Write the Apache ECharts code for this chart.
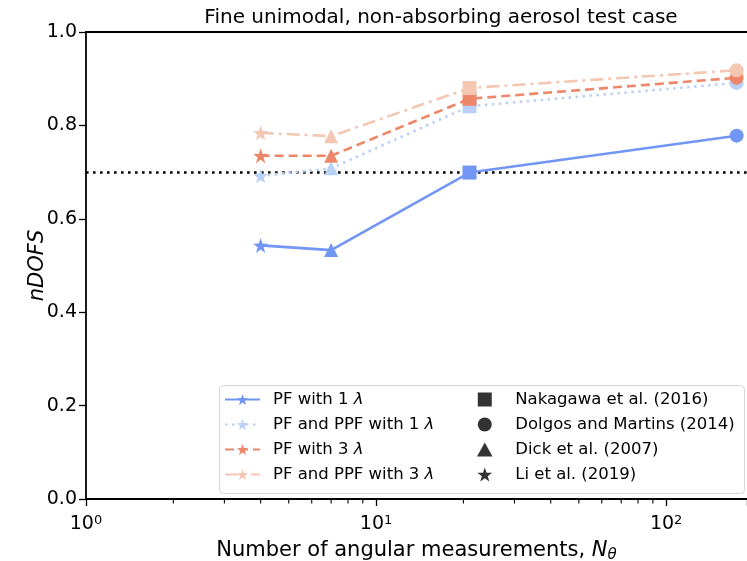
<!DOCTYPE html>
<html>
<head>
<meta charset="utf-8">
<script src="https://cdn.jsdelivr.net/npm/echarts@6/dist/echarts.min.js"></script>
<style>
  html, body { margin: 0; padding: 0; background: #fff; }
  #chart { width: 747px; height: 561px; }
</style>
</head>
<body>
<div id="chart"></div>
<script>
// Number of angular measurements for each retrieval configuration
const nTheta = [4, 7, 21, 175];
// Normalised degrees of freedom for signal
const pf1 = [0.543, 0.533, 0.699, 0.778];
const pfPpf1 = [0.692, 0.708, 0.841, 0.891];
const pf3 = [0.735, 0.735, 0.857, 0.902];
const pfPpf3 = [0.784, 0.777, 0.880, 0.918];
// Source study for each measurement geometry (marker shape)
const studyMarker = ['star', 'triangle', 'square', 'circle'];
const studies = ['Nakagawa et al. (2016)', 'Dolgos and Martins (2014)', 'Dick et al. (2007)', 'Li et al. (2019)'];
const studyShape = ['square', 'circle', 'triangle', 'star'];
const threshold = 0.7;
const minorTicks = [2, 3, 4, 5, 6, 7, 8, 9, 20, 30, 40, 50, 60, 70, 80, 90];
const seriesNames = ['PF with 1 λ', 'PF and PPF with 1 λ', 'PF with 3 λ', 'PF and PPF with 3 λ'];

const STAR = 'path://M0,-10L2.35,-3.24L9.51,-3.09L3.8,1.24L5.88,8.09L0,4L-5.88,8.09L-3.8,1.24L-9.51,-3.09L-2.35,-3.24Z';
const SQUARE = 'path://M0,0L10,0L10,10L0,10Z';
const TRIANGLE = 'path://M5,0L10,9L0,9Z';
const symbolFor = { star: STAR, triangle: 'triangle', square: 'rect', circle: 'circle' };
const legendIconFor = { star: STAR, triangle: TRIANGLE, square: SQUARE, circle: 'circle' };

const FONT = 'DejaVu Sans';
const colors = ['#7196f3', '#b9d0f8', '#ee8669', '#f3c7b1'];
const dashes = ['solid', [2.5, 4.5], [9, 5], [13, 5, 3, 5]];
const values = [pf1, pfPpf1, pf3, pfPpf3];

function makeData(vals) {
  return nTheta.map((x, i) => ({
    value: [x, vals[i]],
    symbol: symbolFor[studyMarker[i]],
    symbolSize: studyMarker[i] === 'star' ? 15 : 14
  }));
}

const lineSeries = seriesNames.map((name, k) => ({
  name: name,
  type: 'line',
  data: makeData(values[k]),
  symbol: STAR,
  symbolSize: 15,
  color: colors[k],
  lineStyle: { color: colors[k], width: 2.6, type: dashes[k] },
  itemStyle: { color: colors[k] },
  z: 3 + k
}));

// Dotted reference line at the threshold
lineSeries[0].markLine = {
  silent: true,
  symbol: 'none',
  label: { show: false },
  lineStyle: { color: '#000', width: 2.6, type: [2.6, 4.4] },
  data: [{ yAxis: threshold }],
  z: 2
};

const studySeries = studies.map((name, i) => ({
  name: name,
  type: 'scatter',
  data: [],
  symbol: legendIconFor[studyShape[i]],
  color: '#000',
  itemStyle: { color: '#000' }
}));

const minorTickSeries = {
  type: 'custom',
  silent: true,
  data: minorTicks.map(v => [v, 0]),
  renderItem: function (params, api) {
    const p = api.coord([api.value(0), api.value(1)]);
    return {
      type: 'line',
      shape: { x1: p[0], y1: p[1], x2: p[0], y2: p[1] + 4.5 },
      style: { stroke: '#000', lineWidth: 1.1 }
    };
  },
  z: 10
};

function logLabel(v) {
  const e = Math.round(Math.log10(v));
  if (Math.abs(v - Math.pow(10, e)) > 1e-6 * v) return '';
  return '10{sup|' + e + '}';
}

const chart = echarts.init(document.getElementById('chart'), null, { renderer: 'canvas' });
chart.setOption({
  animation: false,
  backgroundColor: '#fff',
  textStyle: { fontFamily: FONT },
  title: {
    text: 'Fine unimodal, non-absorbing aerosol test case',
    left: 441,
    top: 8,
    padding: 0,
    textAlign: 'center',
    textStyle: { color: '#000', fontSize: 20, fontWeight: 'normal', fontFamily: FONT }
  },
  grid: { left: 86, right: 0, top: 32, bottom: 62, containLabel: false, outerBoundsMode: 'none' },
  xAxis: [
    {
      type: 'log',
      logBase: 10,
      min: 1,
      max: 190,
      axisLine: { lineStyle: { color: '#000', width: 1.8 } },
      axisTick: { inside: false, length: 7, lineStyle: { color: '#000', width: 1.3 } },
      splitLine: { show: false },
      axisLabel: {
        formatter: logLabel,
        color: '#000',
        fontSize: 19,
        fontFamily: FONT,
        margin: 15,
        rich: { sup: { fontSize: 13, verticalAlign: 'top', fontFamily: FONT, color: '#000', padding: [0, 0, 7, 0] } }
      },
      name: '{n|Number of angular measurements, }{i|N}{s|θ}',
      nameLocation: 'middle',
      nameGap: 40,
      nameMoveOverlap: false,
      nameTextStyle: {
        color: '#000',
        fontSize: 21,
        fontFamily: FONT,
        rich: {
          n: { fontSize: 21, fontFamily: FONT, color: '#000' },
          i: { fontSize: 21, fontFamily: FONT, color: '#000', fontStyle: 'italic' },
          s: { fontSize: 15, fontFamily: FONT, color: '#000', fontStyle: 'italic', verticalAlign: 'bottom', padding: [9, 0, 0, 0] }
        }
      }
    },
    {
      // top frame edge
      type: 'value',
      position: 'top',
      min: 0,
      max: 1,
      axisLine: { show: true, lineStyle: { color: '#000', width: 1.8 } },
      axisTick: { show: false },
      axisLabel: { show: false },
      splitLine: { show: false }
    }
  ],
  yAxis: {
    type: 'value',
    min: 0,
    max: 1,
    interval: 0.2,
    axisLine: { show: true, lineStyle: { color: '#000', width: 1.8 } },
    axisTick: { show: true, length: 7, lineStyle: { color: '#000', width: 1.3 } },
    splitLine: { show: false },
    axisLabel: {
      formatter: v => v.toFixed(1),
      color: '#000',
      fontSize: 19,
      fontFamily: FONT,
      margin: 9
    },
    name: 'nDOFS',
    nameLocation: 'middle',
    nameGap: 38,
    nameMoveOverlap: false,
    nameTextStyle: { color: '#000', fontSize: 21, fontFamily: FONT, fontStyle: 'italic' }
  },
  graphic: [
    {
      type: 'rect',
      shape: { x: 219.5, y: 385.5, width: 525, height: 108, r: 4 },
      style: { fill: 'rgba(255,255,255,0.85)', stroke: '#d6d6d6', lineWidth: 1 },
      z: 50
    }
  ],
  legend: [
    {
      data: seriesNames,
      orient: 'vertical',
      left: 224,
      top: 391,
      padding: 0,
      itemWidth: 35,
      itemHeight: 14,
      itemGap: 8,
      selectedMode: false,
      z: 60,
      formatter: name => name.replace('λ', '{i|λ}'),
      textStyle: {
        color: '#000',
        fontSize: 16.5,
        fontFamily: FONT,
        padding: [0, 0, 0, 8],
        rich: { i: { fontSize: 16.5, fontFamily: FONT, fontStyle: 'italic', color: '#000' } }
      }
    },
    {
      data: studies.map((s, i) => ({ name: s, icon: legendIconFor[studyShape[i]] })),
      orient: 'vertical',
      left: 477,
      top: 391,
      padding: 0,
      itemWidth: 35,
      itemHeight: 14,
      itemGap: 8,
      selectedMode: false,
      z: 60,
      textStyle: { color: '#000', fontSize: 16.5, fontFamily: FONT, padding: [0, 0, 0, 8] }
    }
  ],
  series: lineSeries.concat(studySeries, [minorTickSeries])
});
</script>
</body>
</html>
